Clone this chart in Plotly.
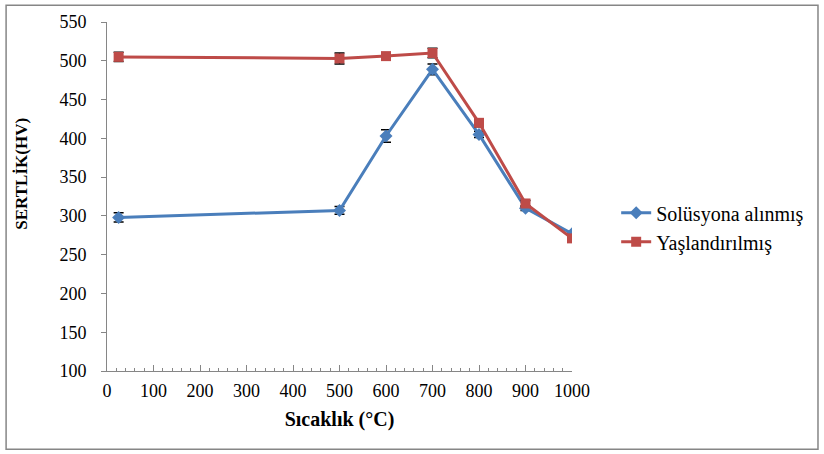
import plotly.graph_objects as go

temps = [25, 500, 600, 700, 800, 900, 1000]
solusyon = [298, 307, 403, 489, 405, 310, 277]
solusyon_err = [6, 5, 8, 7, 4, 3, 3]
yaslandirilmis = [505, 503, 506, 510, 420, 316, 271]
yaslandirilmis_err = [6, 7, 4, 6, 5, 4, 3]

FONT = "Liberation Serif"

fig = go.Figure()
fig.add_trace(go.Scatter(
    x=temps, y=solusyon, name="Solüsyona alınmış", mode="lines+markers",
    line=dict(color="#4A7EBB", width=3),
    marker=dict(symbol="diamond", size=10, color="#4A7EBB"),
    error_y=dict(type="data", array=solusyon_err, color="black", thickness=1.5, width=5),
))
fig.add_trace(go.Scatter(
    x=temps, y=yaslandirilmis, name="Yaşlandırılmış", mode="lines+markers",
    line=dict(color="#BE4B48", width=3),
    marker=dict(symbol="square", size=10, color="#BE4B48"),
    error_y=dict(type="data", array=yaslandirilmis_err, color="black", thickness=1.5, width=5),
))

fig.update_layout(
    width=824, height=454,
    margin=dict(l=107, r=252, t=19, b=83),
    paper_bgcolor="white", plot_bgcolor="white",
    font=dict(family=FONT, size=18, color="black"),
    showlegend=True,
    legend=dict(x=1.095, y=0.412, xanchor="left", yanchor="middle",
                font=dict(family=FONT, size=20), tracegroupgap=4,
                bgcolor="rgba(0,0,0,0)"),
    xaxis=dict(
        range=[0, 1000], tickvals=list(range(0, 1001, 100)),
        showgrid=False, zeroline=False,
        showline=True, linecolor="#868686", linewidth=1,
        ticks="inside", ticklen=6, tickcolor="#868686",
        minor=dict(dtick=20, ticks="inside", ticklen=3, tickcolor="#868686", showgrid=False),
        tickfont=dict(family=FONT, size=18), ticklabelstandoff=3,
        title=dict(text="<b>Sıcaklık (°C)</b>", font=dict(family=FONT, size=20), standoff=12),
    ),
    yaxis=dict(
        range=[100, 550], tickvals=list(range(100, 551, 50)),
        showgrid=False, zeroline=False,
        showline=True, linecolor="#868686", linewidth=1,
        ticks="outside", ticklen=5, tickcolor="#868686",
        tickfont=dict(family=FONT, size=18), ticklabelstandoff=11,
    ),
)

fig.add_annotation(text="<b>SERTLİK(HV)</b>", xref="paper", yref="paper",
                   x=-0.183, y=0.565, textangle=-90, showarrow=False,
                   xanchor="center", yanchor="middle",
                   font=dict(family=FONT, size=17, color="black"))

fig.add_shape(type="rect", xref="paper", yref="paper",
              x0=-0.217, x1=1.529, y0=-0.224, y1=1.048,
              line=dict(color="#868686", width=1.5), layer="below")

fig.write_html("out.html", config={"displayModeBar": False},
               post_script="document.body.style.margin='0';")
